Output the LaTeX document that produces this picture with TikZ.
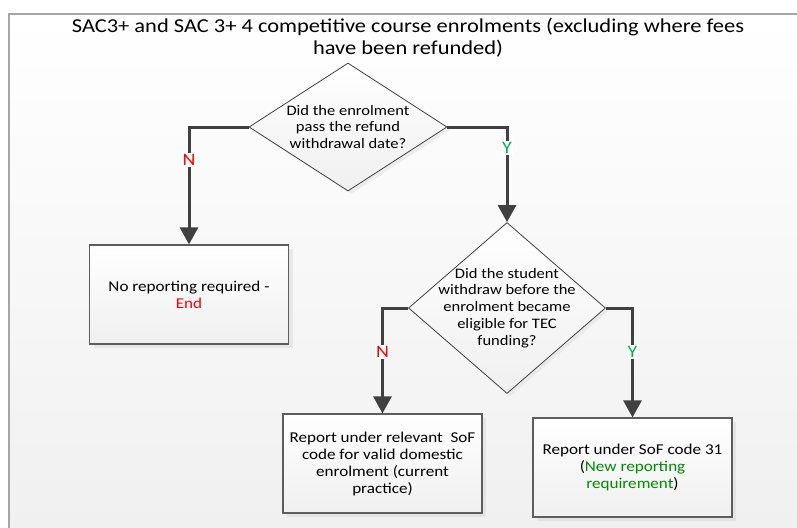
\documentclass[tikz,border=0pt]{standalone}
\usepackage{fontspec}
\setmainfont{Carlito}[FakeStretch=1.14]
\usetikzlibrary{shapes.geometric,arrows.meta,shadows}
\definecolor{linegray}{HTML}{404040}
\definecolor{nored}{HTML}{FF0000}
\definecolor{yesgreen}{HTML}{00B050}
\definecolor{newgreen}{HTML}{008A00}
\begin{document}
\begin{tikzpicture}[x=1pt,y=-1pt]
                % Define styles for different elements
                \tikzstyle{decision} = [diamond, draw=linegray, line width=0.8pt, top color=white, bottom color=gray!12, inner sep=0pt, drop shadow={shadow xshift=3pt, shadow yshift=-3pt, fill=gray!25}]
                \tikzstyle{qtext} = [align=center, font=\fontsize{14.5}{16.8}\selectfont]
                \tikzstyle{outcome} = [rectangle, draw=linegray!85, line width=1.2pt, top color=white, bottom color=gray!12, minimum width=199pt, minimum height=99pt, align=center, font=\fontsize{15}{17}\selectfont, drop shadow={shadow xshift=4pt, shadow yshift=-4pt, fill=gray!30}]
                \tikzstyle{flow} = [draw=linegray, line width=3pt, -{Triangle[length=17pt,width=18pt]}]
                \tikzstyle{answer} = [fill=white, inner sep=1pt, font=\fontsize{17.5}{19}\selectfont]

                \useasboundingbox (0,0) rectangle (797,527);

                % Draw the frame and the heading
                \draw[draw=gray!70, line width=1.2pt, top color=white, bottom color=gray!12] (9,14) rectangle (800,540);
                \node[align=center, font=\fontsize{19.7}{22.3}\selectfont] (title) at (408,38) {SAC3+ and SAC 3+ 4 competitive course enrolments (excluding where fees\\have been refunded)};

                % Questions
                \node[decision, minimum width=198pt, minimum height=128pt, label={[qtext]center:Did the enrolment\\pass the refund\\withdrawal date?}] (refund) at (348,127) {};
                \node[decision, minimum width=197pt, minimum height=171pt, label={[qtext]center:Did the student\\withdraw before the\\enrolment became\\eligible for TEC\\funding?}] (eligible) at (507,308) {};

                % Outcomes
                \node[outcome] (noreport) at (189,294.5) {No reporting required -\\\textcolor{nored}{End}};
                \node[outcome] (current) at (382.5,463.5) {Report under relevant~ SoF\\code for valid domestic\\enrolment (current\\practice)};
                \node[outcome] (code31) at (632.5,467.5) {Report under SoF code 31\\(\textcolor{newgreen}{New reporting}\\\textcolor{newgreen}{requirement})};

                % Connect the nodes
                \draw[flow] (refund.west) -| (noreport.north);
                \draw[flow] (refund.east) -| (eligible.north);
                \draw[flow] (eligible.west) -| (current.north);
                \draw[flow] (eligible.east) -| (code31.north);

                % Answers on the branches
                \node[answer, text=nored] (no1) at (189,160) {N};
                \node[answer, text=yesgreen] (yes1) at (507,148) {Y};
                \node[answer, text=nored] (no2) at (382.5,352) {N};
                \node[answer, text=yesgreen] (yes2) at (632.5,352) {Y};
            \end{tikzpicture}
\end{document}
